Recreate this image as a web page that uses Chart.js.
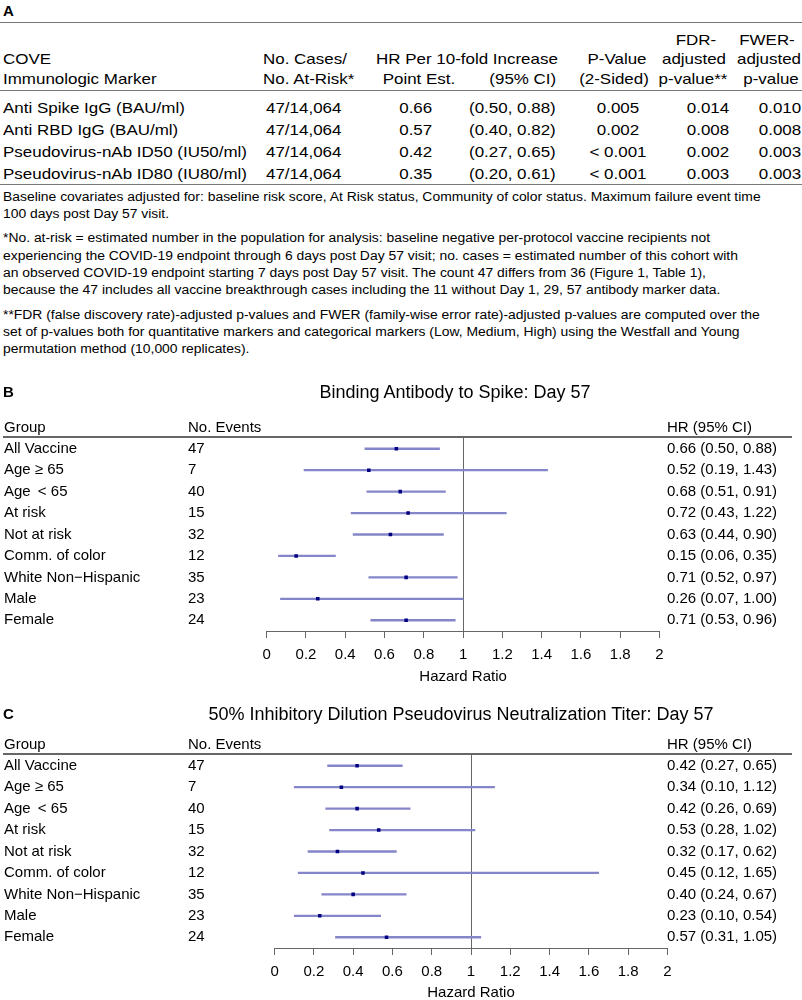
<!DOCTYPE html>
<html>
<head>
<meta charset="utf-8">
<script src="https://cdn.jsdelivr.net/npm/chart.js@4.4.1/dist/chart.umd.min.js"></script>
<style>
  body { margin: 0; background: #fff; }
  #page { position: relative; width: 802px; height: 1000px; overflow: hidden;
          font-family: 'Liberation Sans', Arial, Helvetica, sans-serif; color: #000; }
  .t { position: absolute; white-space: pre; line-height: 1; }
  .rule { position: absolute; height: 0; border-top: 1.5px solid #777; }
  canvas { position: absolute; left: 0; }
</style>
</head>
<body>
<div id="page">
  <canvas id="spikeChart" width="802" height="310" style="top:380px"></canvas>
  <canvas id="id50Chart" width="802" height="300" style="top:700px"></canvas>
</div>
<script>
// Panel A table
const markerNames = ['Anti Spike IgG (BAU/ml)', 'Anti RBD IgG (BAU/ml)', 'Pseudovirus-nAb ID50 (IU50/ml)', 'Pseudovirus-nAb ID80 (IU80/ml)'];
const casesAtRisk = ['47/14,064', '47/14,064', '47/14,064', '47/14,064'];
const markerHR = [0.66, 0.57, 0.42, 0.35];
const markerLo = [0.50, 0.40, 0.27, 0.20];
const markerHi = [0.88, 0.82, 0.65, 0.61];
const pValues = ['0.005', '0.002', '< 0.001', '< 0.001'];
const fdrValues = ['0.014', '0.008', '0.002', '0.003'];
const fwerValues = ['0.010', '0.008', '0.003', '0.003'];

const footnotes = [
  'Baseline covariates adjusted for: baseline risk score, At Risk status, Community of color status. Maximum failure event time',
  '100 days post Day 57 visit.',
  '*No. at-risk = estimated number in the population for analysis: baseline negative per-protocol vaccine recipients not',
  'experiencing the COVID-19 endpoint through 6 days post Day 57 visit; no. cases = estimated number of this cohort with',
  'an observed COVID-19 endpoint starting 7 days post Day 57 visit. The count 47 differs from 36 (Figure 1, Table 1),',
  'because the 47 includes all vaccine breakthrough cases including the 11 without Day 1, 29, 57 antibody marker data.',
  '**FDR (false discovery rate)-adjusted p-values and FWER (family-wise error rate)-adjusted p-values are computed over the',
  'set of p-values both for quantitative markers and categorical markers (Low, Medium, High) using the Westfall and Young',
  'permutation method (10,000 replicates).'
];

// Forest plots B and C
const groups = ['All Vaccine', 'Age \u2265 65', 'Age \u2009< 65', 'At risk', 'Not at risk', 'Comm. of color', 'White Non\u2212Hispanic', 'Male', 'Female'];
const spikeEvents = [47, 7, 40, 15, 32, 12, 35, 23, 24];
const spikeHR = [0.66, 0.52, 0.68, 0.72, 0.63, 0.15, 0.71, 0.26, 0.71];
const spikeLo = [0.50, 0.19, 0.51, 0.43, 0.44, 0.06, 0.52, 0.07, 0.53];
const spikeHi = [0.88, 1.43, 0.91, 1.22, 0.90, 0.35, 0.97, 1.00, 0.96];

const id50Events = [47, 7, 40, 15, 32, 12, 35, 23, 24];
const id50HR = [0.42, 0.34, 0.42, 0.53, 0.32, 0.45, 0.40, 0.23, 0.57];
const id50Lo = [0.27, 0.10, 0.26, 0.28, 0.17, 0.12, 0.24, 0.10, 0.31];
const id50Hi = [0.65, 1.12, 0.69, 1.02, 0.62, 1.65, 0.67, 0.54, 1.05];

const FONT = "'Liberation Sans', Arial, Helvetica, sans-serif";
const ciColor = '#8585c9';
const dotColor = '#000080';
const axisColor = '#666';

const page = document.getElementById('page');

function put(text, x, y, o = {}) {
  const size = o.size || 15;
  const sx = o.sx || 1;
  const align = o.align || 'left';
  const el = document.createElement('span');
  el.className = 't';
  el.textContent = text;
  el.style.fontSize = size + 'px';
  el.style.top = (y - size / 2) + 'px';
  if (o.bold) el.style.fontWeight = 'bold';
  if (align === 'right') {
    el.style.right = (802 - x) + 'px';
    el.style.transformOrigin = '100% 0';
    el.style.transform = `scaleX(${sx})`;
  } else if (align === 'center') {
    el.style.left = x + 'px';
    el.style.transformOrigin = '50% 0';
    el.style.transform = `translateX(-50%) scaleX(${sx})`;
  } else {
    el.style.left = x + 'px';
    el.style.transformOrigin = '0 0';
    el.style.transform = `scaleX(${sx})`;
  }
  page.appendChild(el);
}

function rule(y, x1, x2) {
  const el = document.createElement('div');
  el.className = 'rule';
  el.style.top = y + 'px';
  el.style.left = x1 + 'px';
  el.style.width = (x2 - x1) + 'px';
  page.appendChild(el);
}

// ---- Panel A ----
const SX = 1.13;
put('A', 3, 10, { size: 15, bold: true });
rule(22, 0, 802);
put('FDR-', 696, 39, { align: 'center', sx: SX });
put('FWER-', 767, 39, { align: 'center', sx: SX });
put('COVE', 3, 58, { sx: SX });
put('No. Cases/', 263, 58, { sx: SX });
put('HR Per 10-fold Increase', 376, 58, { sx: SX });
put('P-Value', 617, 58, { align: 'center', sx: SX });
put('adjusted', 694, 58, { align: 'center', sx: SX });
put('adjusted', 769, 58, { align: 'center', sx: SX });
put('Immunologic Marker', 3, 78, { sx: SX });
put('No. At-Risk*', 263, 78, { sx: SX });
put('Point Est.', 455, 78, { align: 'right', sx: SX });
put('(95% CI)', 556, 78, { align: 'right', sx: SX });
put('(2-Sided)', 614, 78, { align: 'center', sx: SX });
put('p-value**', 693, 78, { align: 'center', sx: SX });
put('p-value', 771, 78, { align: 'center', sx: SX });
rule(90, 0, 802);
markerNames.forEach((name, i) => {
  const y = 107 + i * 22;
  put(name, 3, y, { sx: SX });
  put(casesAtRisk[i], 266, y, { sx: SX });
  put(markerHR[i].toFixed(2), 432, y, { align: 'right', sx: SX });
  put(`(${markerLo[i].toFixed(2)}, ${markerHi[i].toFixed(2)})`, 556, y, { align: 'right', sx: SX });
  put(pValues[i], 618, y, { align: 'center', sx: SX });
  put(fdrValues[i], 708, y, { align: 'center', sx: SX });
  put(fwerValues[i], 780, y, { align: 'center', sx: SX });
});
rule(184, 0, 802);
const noteY = [197, 214, 238, 256, 273, 290, 315, 332, 349];
footnotes.forEach((line, i) => put(line, 3, noteY[i], { size: 12.3, sx: SX }));

// ---- Panels B and C ----
put('B', 3, 391, { size: 15, bold: true });
put('Binding Antibody to Spike: Day 57', 455, 392, { size: 18, align: 'center' });
put('C', 3, 713, { size: 15, bold: true });
put('50% Inhibitory Dilution Pseudovirus Neutralization Titer: Day 57', 461, 714, { size: 18, align: 'center' });

const forestColumns = {
  id: 'forestColumns',
  afterDraw(chart, args, opts) {
    const { ctx, chartArea, scales: { y } } = chart;
    ctx.save();
    ctx.font = `15px ${FONT}`;
    ctx.fillStyle = '#000';
    ctx.textBaseline = 'middle';
    ctx.textAlign = 'left';
    const headY = chartArea.top - 10;
    ctx.fillText('Group', opts.xGroup, headY);
    ctx.fillText('No. Events', opts.xEvents, headY);
    ctx.fillText('HR (95% CI)', opts.xHR, headY);
    ctx.strokeStyle = axisColor;
    ctx.lineWidth = 2;
    ctx.beginPath();
    ctx.moveTo(opts.xGroup - 1, chartArea.top - 1);
    ctx.lineTo(opts.ruleEnd, chartArea.top - 1);
    ctx.stroke();
    opts.labels.forEach((g, i) => {
      const py = y.getPixelForValue(i);
      ctx.fillText(g, opts.xGroup, py);
      ctx.fillText(String(opts.events[i]), opts.xEvents, py);
      ctx.fillText(`${opts.hr[i].toFixed(2)} (${opts.lo[i].toFixed(2)}, ${opts.hi[i].toFixed(2)})`, opts.xHR, py);
    });
    ctx.restore();
  }
};

function forestChart(id, hr, lo, hi, events, geo) {
  return new Chart(document.getElementById(id), {
    type: 'bar',
    data: {
      labels: groups,
      datasets: [
        {
          type: 'bar',
          order: 1,
          data: lo.map((v, i) => [v, hi[i]]),
          backgroundColor: ciColor,
          borderWidth: 0,
          barThickness: 1.7
        },
        {
          type: 'scatter',
          order: 0,
          data: hr.map((v, i) => ({ x: v, y: groups[i] })),
          pointStyle: 'rect',
          pointRadius: 2.5,
          backgroundColor: dotColor,
          borderColor: dotColor,
          borderWidth: 0
        }
      ]
    },
    options: {
      indexAxis: 'y',
      responsive: false,
      animation: false,
      layout: { padding: { left: geo.left, right: 802 - geo.right, top: geo.top, bottom: 0 } },
      plugins: {
        legend: { display: false },
        tooltip: { enabled: false },
        forestColumns: { labels: groups, events, hr, lo, hi, xGroup: 4, xEvents: 188, xHR: 667, ruleEnd: 792 }
      },
      scales: {
        x: {
          type: 'linear',
          min: 0,
          max: 2,
          afterFit: (scale) => { scale.height = geo.axisH; },
          ticks: {
            stepSize: 0.2,
            color: '#000',
            padding: 8,
            maxRotation: 0,
            font: { family: FONT, size: 15 },
            callback: (v) => String(Math.round(v * 10) / 10)
          },
          grid: {
            drawOnChartArea: true,
            color: (c) => (c.tick && Math.abs(c.tick.value - 1) < 1e-9 ? axisColor : 'rgba(0,0,0,0)'),
            tickColor: axisColor,
            tickLength: 7,
            lineWidth: 1
          },
          border: { display: true, color: axisColor, width: 1 },
          title: {
            display: true,
            text: 'Hazard Ratio',
            color: '#000',
            font: { family: FONT, size: 15, lineHeight: 1 },
            padding: { top: 0, bottom: geo.titlePad }
          }
        },
        y: { type: 'category', display: false, offset: true }
      }
    },
    plugins: [forestColumns]
  });
}

forestChart('spikeChart', spikeHR, spikeLo, spikeHi, spikeEvents,
  { left: 266.7, right: 659.5, top: 58, axisH: 59, titlePad: 5.5 });
forestChart('id50Chart', id50HR, id50Lo, id50Hi, id50Events,
  { left: 274.6, right: 667.4, top: 55, axisH: 52, titlePad: 0 });
</script>
</body>
</html>
